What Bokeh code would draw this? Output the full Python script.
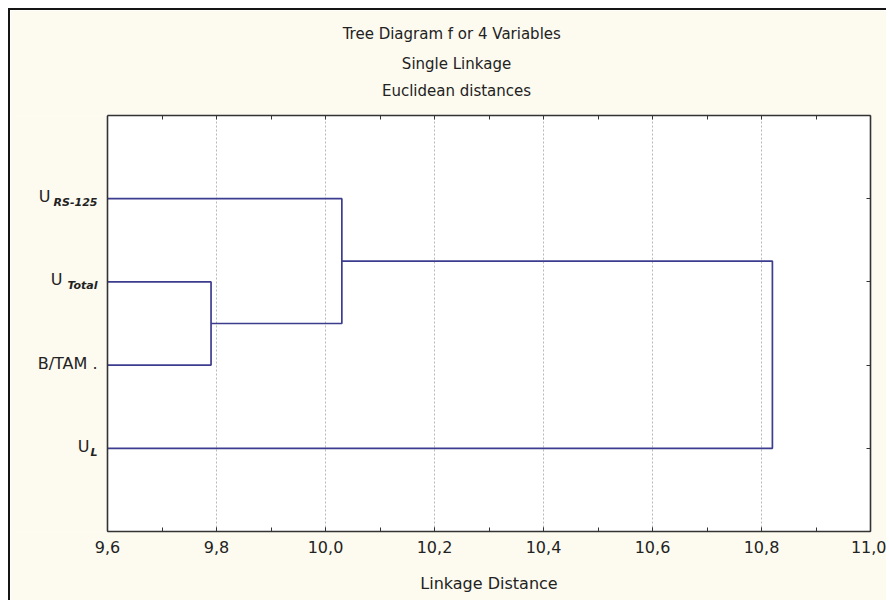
from bokeh.plotting import figure
from bokeh.models import (Label, LinearAxis, Range1d, FixedTicker, CustomJSTickFormatter,
                          BoxAnnotation, Span)
from bokeh.embed import file_html
from bokeh.resources import INLINE

# ---- data ----
leaf_main = ["U", "B/TAM .", "U", "U"]          # bottom -> top
leaf_sub = ["L", "", "Total", "RS-125"]
leaf_pos = [1, 2, 3, 4]
# merges: (member a, member b, linkage distance); members index leaves (0..3) or earlier clusters (4..)
merge_a = [1, 4, 5]
merge_b = [2, 3, 0]
merge_dist = [9.79, 10.03, 10.82]
x_ticks = [9.6, 9.8, 10.0, 10.2, 10.4, 10.6, 10.8, 11.0]
x_minor = [9.6, 9.7, 9.8, 9.9, 10.0, 10.1, 10.2, 10.3, 10.4, 10.5, 10.6, 10.7, 10.8, 10.9, 11.0]
title_lines = ["Tree Diagram f or 4   Variables", "Single Linkage", "Euclidean distances"]
x_label = "Linkage Distance"

# ---- layout / style ----
X0, X1 = 9.6, 11.0
PX_PER_UNIT = 763 / (X1 - X0)
LABEL_AREA = 96                       # px to the left of the data box, inside the frame
XSTART = X0 - LABEL_AREA / PX_PER_UNIT
FONT = "DejaVu Sans"
TXT = "#222222"
LINE = "#3d3d8f"
AX = "#333333"
BG = "#fdfaef"

p = figure(width=878, height=592, x_range=Range1d(XSTART, X1), y_range=Range1d(0, 5),
           output_backend="svg", toolbar_location=None,
           x_axis_location="below", y_axis_location="right",
           background_fill_color=BG, border_fill_color=BG,
           min_border_left=1, min_border_top=105, min_border_right=18, min_border_bottom=71)
p.styles = {"margin-left": "8px", "margin-top": "8px",
            "border-left": "2px solid #151515", "border-top": "2px solid #151515"}
p.outline_line_color = None

# white data box
p.add_layout(BoxAnnotation(left=X0, right=X1, fill_color="white", fill_alpha=1.0,
                           line_color=None, level="image"))
p.add_layout(Span(location=X0, dimension="height", line_color=AX, line_width=1.6))

# ---- dendrogram segments ----
node_x = [X0] * len(leaf_pos)
node_y = list(leaf_pos)
xs, ys = [], []
for a, b, d in zip(merge_a, merge_b, merge_dist):
    xs.append([node_x[a], d, d, node_x[b]])
    ys.append([node_y[a], node_y[a], node_y[b], node_y[b]])
    node_x.append(d)
    node_y.append((node_y[a] + node_y[b]) / 2.0)
p.multi_line(xs, ys, line_color=LINE, line_width=1.7)

# ---- axes ----
fmt = CustomJSTickFormatter(code="return tick.toFixed(1).replace('.', ',');")
bx = p.xaxis[0]
bx.bounds = (X0, X1)
bx.ticker = FixedTicker(ticks=x_ticks, minor_ticks=x_minor)
bx.formatter = fmt
bx.major_tick_in = 4
bx.major_tick_out = 0
bx.minor_tick_in = 4
bx.minor_tick_out = 0
bx.axis_line_color = AX
bx.axis_line_width = 1.6
bx.major_tick_line_color = AX
bx.minor_tick_line_color = AX
bx.major_label_text_font = FONT
bx.major_label_text_font_size = "16px"
bx.major_label_text_color = TXT
bx.major_label_standoff = 9

tx = LinearAxis(bounds=(X0, X1), ticker=FixedTicker(ticks=x_minor),
                major_label_text_color=None, major_label_standoff=0,
                major_tick_in=4, major_tick_out=0,
                minor_tick_line_color=None, axis_line_color=AX, axis_line_width=1.6,
                major_tick_line_color=AX)
p.add_layout(tx, "above")

ry = p.yaxis[0]
ry.ticker = FixedTicker(ticks=leaf_pos)
ry.major_label_text_color = None
ry.major_label_standoff = 0
ry.major_tick_in = 4
ry.major_tick_out = 0
ry.minor_tick_line_color = None
ry.axis_line_color = AX
ry.axis_line_width = 1.6
ry.major_tick_line_color = AX

p.xgrid.grid_line_color = "#b8b8b8"
p.xgrid.grid_line_dash = "2 2"
p.xgrid.ticker = FixedTicker(ticks=x_ticks)
p.ygrid.grid_line_color = None

# ---- leaf labels (with subscripts) ----
main_off = [-18, -10, -45, -57]
for m, s, y, mo in zip(leaf_main, leaf_sub, leaf_pos, main_off):
    p.add_layout(Label(x=X0, y=y, x_offset=mo, y_offset=2, text=m, text_align="right",
                       text_baseline="middle", text_font=FONT, text_font_size="16px",
                       text_color=TXT))
    if s:
        p.add_layout(Label(x=X0, y=y, x_offset=-10, y_offset=-4, text=s, text_align="right",
                           text_baseline="middle", text_font=FONT, text_font_size="11px",
                           text_font_style="bold italic", text_color=TXT))

# ---- title lines ----
title_x = XSTART + 445 / PX_PER_UNIT
for t, off in zip(title_lines, [82, 52, 25]):
    p.add_layout(Label(x=title_x, y=5, y_offset=off, text=t, text_align="center",
                       text_baseline="middle", text_font=FONT, text_font_size="15px",
                       text_color=TXT), "above")

# ---- x axis title, centred under the data box ----
p.add_layout(Label(x=(X0 + X1) / 2, y=0, y_offset=-52, text=x_label, text_align="center",
                   text_baseline="middle", text_font=FONT, text_font_size="16px",
                   text_color=TXT), "below")

open("out.html", "w").write(file_html(p, INLINE))
